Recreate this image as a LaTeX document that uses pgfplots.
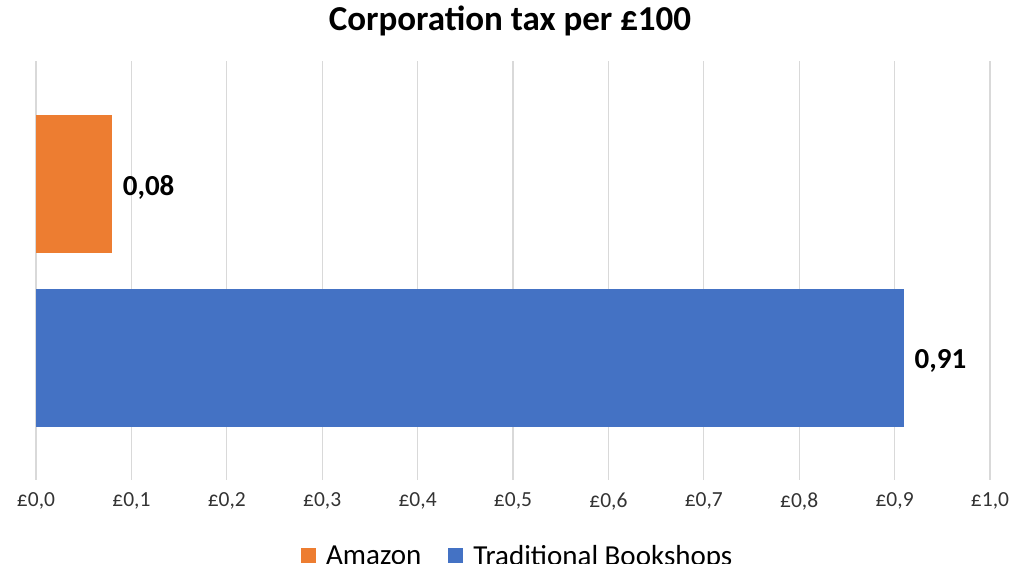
\documentclass[border=0pt]{standalone}
\usepackage{pgfplots}
\pgfplotsset{compat=1.18}
\usepackage{fontspec}
\setmainfont{Carlito}
\definecolor{amz}{HTML}{ED7D31}
\definecolor{trad}{HTML}{4472C4}
\definecolor{gridc}{HTML}{D9D9D9}
\begin{document}
\begin{tikzpicture}[x=1pt,y=1pt]
\useasboundingbox (0,0) rectangle (1018,564);
\clip (0,0) rectangle (1018,564);
\node[font=\fontsize{35}{40}\selectfont\bfseries] at (510,543) {Corporation tax per £100};
\begin{axis}[
  at={(36pt,84pt)}, anchor=south west,
  width=954pt, height=419pt, scale only axis,
  xmin=0, xmax=1, ymin=-0.701, ymax=1.707,
  xbar, bar width=138pt, bar shift=0pt,
  axis x line=bottom, axis y line=left,
  axis line style={draw=none},
  ytick=\empty,
  xtick={0,0.1,0.2,0.3,0.4,0.5,0.6,0.7,0.8,0.9,1},
  xticklabels={{£0,0},{£0,1},{£0,2},{£0,3},{£0,4},{£0,5},{£0,6},{£0,7},{£0,8},{£0,9},{£1,0}},
  major tick length=0pt,
  xmajorgrids, grid style={gridc, line width=1.2pt},
  xticklabel style={font=\fontsize{21.5}{24}\selectfont, color=black!80, yshift=-9pt},
  nodes near coords,
  nodes near coords style={font=\fontsize{29}{32}\selectfont\bfseries, black, xshift=7pt, yshift=-3pt,
    /pgf/number format/.cd, use comma, fixed, fixed zerofill, precision=2, assume math mode=true},
  legend columns=2,
  legend style={at={(axis description cs:0.505,-0.181)}, anchor=center, draw=none,
    font=\fontsize{29}{32}\selectfont, column sep=0pt,
    /tikz/every odd column/.append style={column sep=8pt},
    /tikz/every even column/.append style={column sep=25pt}},
  legend image code/.code={\fill[#1] (0pt,-7pt) rectangle (15pt,8pt);},
]
\addplot[fill=amz, draw=none] coordinates {(0.08,1)};
\addlegendentry{Amazon}
\addplot[fill=trad, draw=none] coordinates {(0.91,0)};
\addlegendentry{Traditional Bookshops}
\end{axis}
\end{tikzpicture}
\end{document}
